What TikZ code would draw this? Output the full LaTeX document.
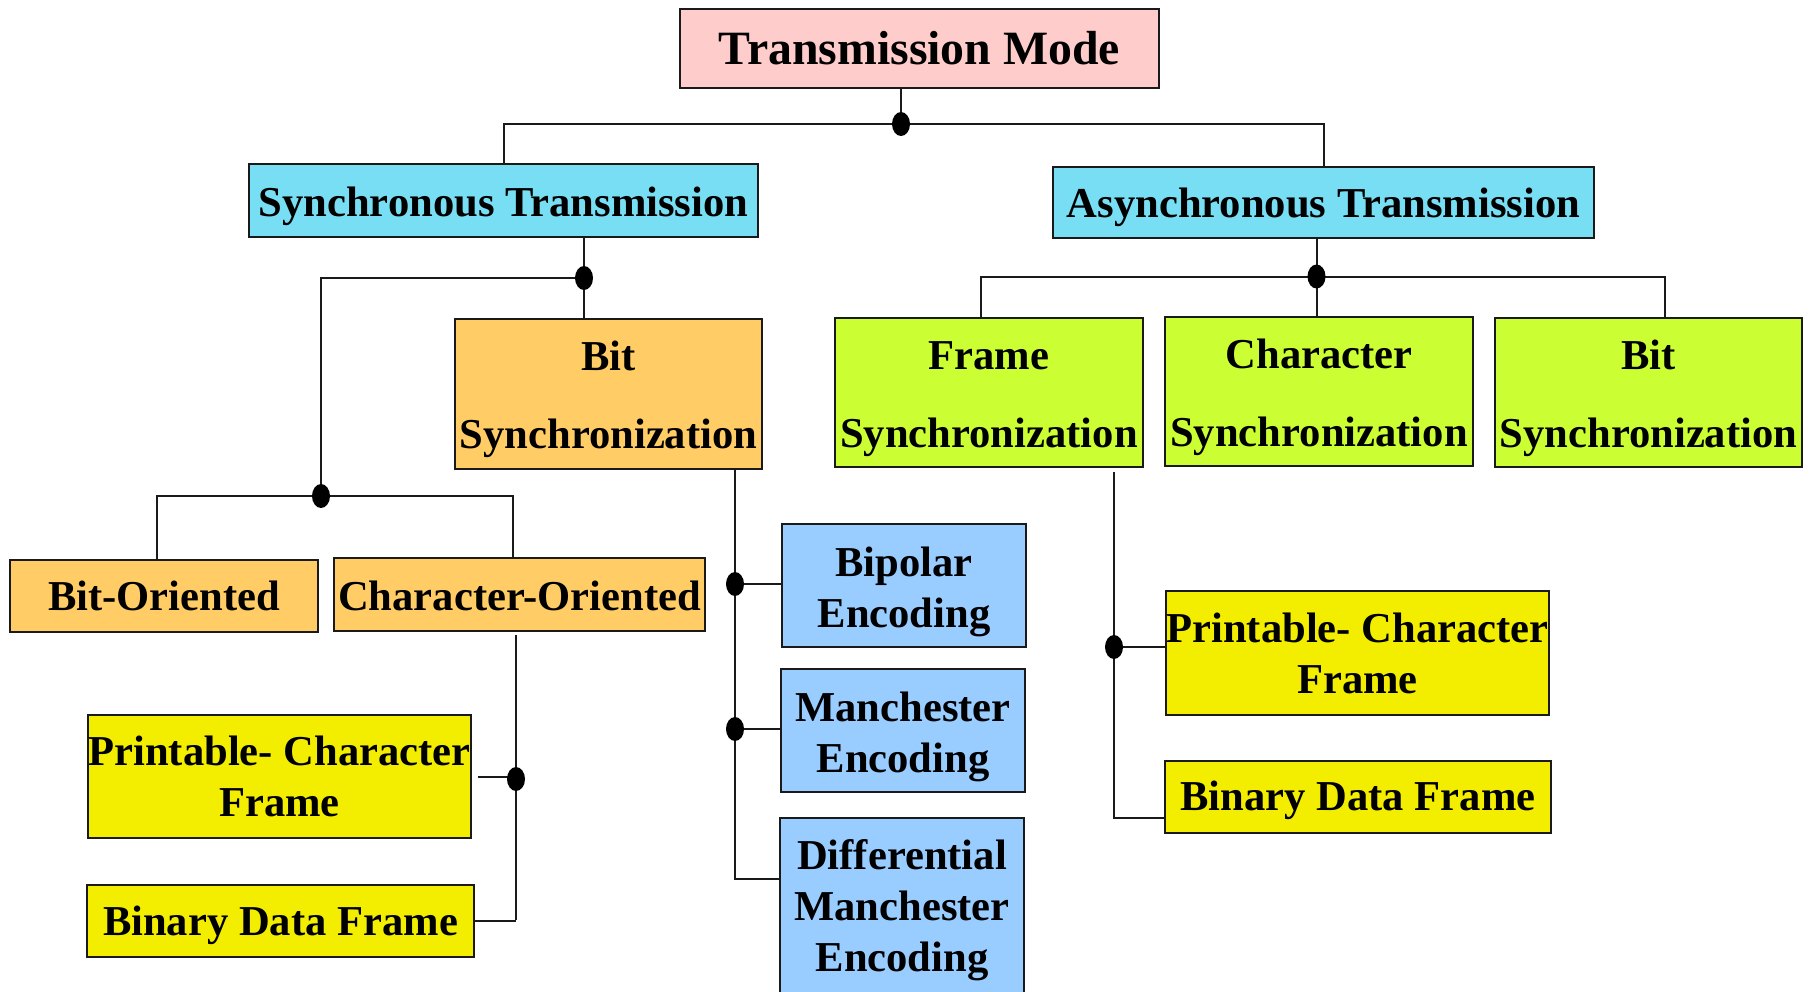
\documentclass[tikz,border=0pt]{standalone}
\usepackage{fontspec}
\setmainfont{Liberation Serif}
\definecolor{cpink}{HTML}{FFCCCC}
\definecolor{ccyan}{HTML}{78DEF4}
\definecolor{corange}{HTML}{FFCC66}
\definecolor{cgreen}{HTML}{CCFF33}
\definecolor{cblue}{HTML}{99CCFF}
\definecolor{cyellow}{HTML}{F3EE00}
\definecolor{cline}{HTML}{1A1A1A}
\begin{document}
\begin{tikzpicture}[x=1pt,y=-1pt,
  box/.style={draw=cline, line width=2.2pt, inner sep=0pt},
  lbl/.style={inner sep=0pt, align=center, font=\bfseries\fontsize{42.6}{51}\selectfont},
  lblsync/.style={lbl, font=\bfseries\fontsize{42.6}{78}\selectfont},
  txt/.style 2 args={label={[lbl, yshift=-#1pt]center:{#2}}},
  stxt/.style 2 args={label={[lblsync, yshift=-#1pt]center:{#2}}},
  conn/.style={draw=cline, line width=2pt},
  dot/.style={fill=black}]
\useasboundingbox (0,0) rectangle (1814,991);
\clip (0,0) rectangle (1814,991);
\fill[white] (0,0) rectangle (1814,991);

% nodes
\node[box, fill=cpink, minimum width=479pt, minimum height=79pt,
  label={[lbl, font=\bfseries\fontsize{47.8}{57}\selectfont]center:{Transmission Mode}}] (title) at (919.5,48.5) {};
\node[box, fill=ccyan, minimum width=509pt, minimum height=73pt, txt={6}{Synchronous Transmission}] (sync) at (503.5,200.5) {};
\node[box, fill=ccyan, minimum width=541pt, minimum height=71pt, txt={5}{Asynchronous Transmission}] (async) at (1323.5,202.5) {};
\node[box, fill=corange, minimum width=307pt, minimum height=150pt, stxt={5}{Bit\\Synchronization}] (bitsyncA) at (608.5,394) {};
\node[box, fill=cgreen, minimum width=308pt, minimum height=149pt, stxt={7}{Frame\\Synchronization}] (framesync) at (989,392.5) {};
\node[box, fill=cgreen, minimum width=308pt, minimum height=149pt, stxt={6}{Character\\Synchronization}] (charsync) at (1319,391.5) {};
\node[box, fill=cgreen, minimum width=307pt, minimum height=149pt, stxt={6}{Bit\\Synchronization}] (bitsyncB) at (1648.5,392.5) {};
\node[box, fill=corange, minimum width=308pt, minimum height=72pt, txt={0}{Bit-Oriented}] (bitor) at (164,596) {};
\node[box, fill=corange, minimum width=371pt, minimum height=73pt, txt={1}{Character-Oriented}] (charor) at (519.5,594.5) {};
\node[box, fill=cblue, minimum width=244pt, minimum height=123pt, txt={6}{Bipolar\\Encoding}] (bipolar) at (904,585.5) {};
\node[box, fill=cblue, minimum width=244pt, minimum height=123pt, txt={6}{Manchester\\Encoding}] (manch) at (903,730.5) {};
\node[box, fill=cblue, minimum width=244pt, minimum height=178pt, txt={3.5}{Differential\\Manchester\\Encoding}] (diff) at (902,907) {};
\node[box, fill=cyellow, minimum width=383pt, minimum height=123pt, txt={0}{Printable- Character\\Frame}] (printL) at (279.5,776.5) {};
\node[box, fill=cyellow, minimum width=387pt, minimum height=72pt, txt={4.5}{Binary Data Frame}] (binL) at (280.5,921) {};
\node[box, fill=cyellow, minimum width=383pt, minimum height=124pt, txt={0.5}{Printable- Character\\Frame}] (printR) at (1357.5,653) {};
\node[box, fill=cyellow, minimum width=386pt, minimum height=72pt, txt={3.5}{Binary Data Frame}] (binR) at (1358,797) {};

% junction coordinates
\coordinate (j0) at (901,124);
\coordinate (j1) at (584,278);
\coordinate (j2) at (321,496);
\coordinate (j3) at (1316.5,276.5);
\coordinate (j4) at (735,584);
\coordinate (j5) at (735,729);
\coordinate (j6) at (516,779);
\coordinate (cc) at (516,920);
\coordinate (j7) at (1114,647);

% connectors
\draw[conn] (j0 |- title.south) -- (j0);
\draw[conn] (sync.north) |- (j0) -| (async.north);
\draw[conn] (j1 |- sync.south) -- (j1 |- bitsyncA.north);
\draw[conn] (j1) -| (j2);
\draw[conn] ([xshift=-7pt]bitor.north) |- (j2) -| ([xshift=-6.5pt]charor.north);
\draw[conn] (j3 |- async.south) -- (j3 |- charsync.north);
\draw[conn] ([xshift=-8pt]framesync.north) |- (j3) -| ([xshift=16.5pt]bitsyncB.north);
\draw[conn] ([xshift=126.5pt]bitsyncA.south) |- ([yshift=28pt]diff.west);
\draw[conn] (j4) -- (j4 -| bipolar.west);
\draw[conn] (j5) -- (j5 -| manch.west);
\draw[conn] ([yshift=-3pt]cc |- charor.south) -- (cc);
\draw[conn] ([xshift=6pt]printL.east) -- (j6 |- printL.east);
\draw[conn] (binL.east) -- (cc |- binL.east);
\draw[conn] ([xshift=125pt,yshift=-4pt]framesync.south) |- ([yshift=-21pt]binR.west);
\draw[conn] (j7) -- (j7 -| printR.west);

% dots
\foreach \p in {j0,j1,j2,j3,j4,j5,j6,j7}
  \fill[dot] (\p) ellipse [x radius=9pt, y radius=12pt];
\end{tikzpicture}
\end{document}
